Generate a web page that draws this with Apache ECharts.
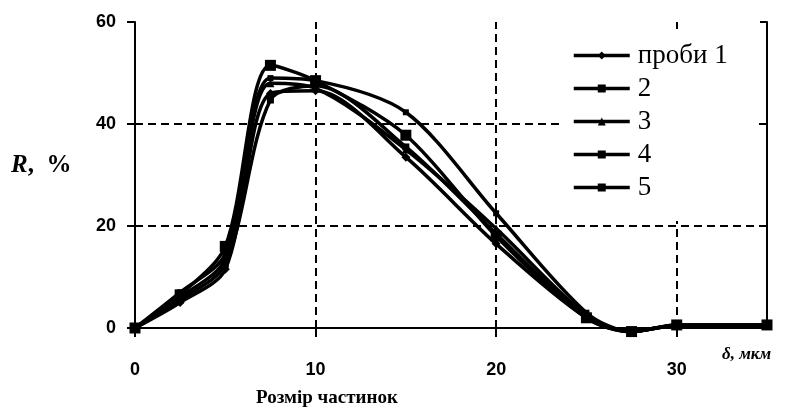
<!DOCTYPE html>
<html>
<head>
<meta charset="utf-8">
<script src="https://cdn.jsdelivr.net/npm/echarts@6/dist/echarts.min.js"></script>
<style>
html,body{margin:0;padding:0;background:#fff;}
#c{width:787px;height:417px;}
</style>
</head>
<body>
<div id="c"></div>
<script>
// Particle size, µm
const sizes = [0, 2.5, 5, 7.5, 10, 15, 20, 25, 27.5, 30, 35];
const seriesNames = ['проби 1', '2', '3', '4', '5'];
const s1 = [0, 5.0, 11.5, 46.0, 46.5, 33.5, 16.5, 2.0, -0.7, 0.5, 0.5];
const s2 = [0, 5.5, 12.5, 44.7, 47.5, 35.5, 18.5, 2.0, -0.7, 0.5, 0.5];
const s3 = [0, 6.0, 13.5, 48.0, 47.0, 35.0, 19.5, 2.5, -0.7, 0.5, 0.5];
const s4 = [0, 6.5, 16.0, 51.5, 48.5, 37.8, 18.0, 2.0, -0.7, 0.6, 0.6];
const s5 = [0, 7.0, 14.5, 49.0, 48.5, 42.3, 22.5, 3.0, -0.7, 0.6, 0.6];
const xTicks = [0, 10, 20, 30];
const yTicks = [0, 20, 40, 60];
const gridX = [10, 20, 30];
const gridY = [20, 40];

const values = [s1, s2, s3, s4, s5];
const symbols = ['diamond', 'rect', 'triangle', 'rect', 'rect'];
const symbolSizes = [9, 7, 8, 11, 6];

const chart = echarts.init(document.getElementById('c'), null, {renderer: 'canvas'});

const series = values.map((v, i) => ({
  name: seriesNames[i],
  type: 'line',
  data: sizes.map((x, j) => [x, v[j]]),
  smooth: 0.3,
  clip: false,
  symbol: symbols[i],
  symbolSize: symbolSizes[i],
  showAllSymbol: true,
  itemStyle: {color: '#000'},
  lineStyle: {color: '#000', width: 3.5},
  z: 3,
  markLine: i === 0 ? {
    silent: true,
    symbol: 'none',
    label: {show: false},
    lineStyle: {color: '#000', type: [8, 5], width: 2},
    data: gridY.map(y => ({yAxis: y})).concat(gridX.map(x => ({xAxis: x}))),
    z: 1
  } : undefined
}));

chart.setOption({
  animation: false,
  backgroundColor: '#fff',
  grid: {left: 135, right: 20, top: 22, bottom: 89},
  xAxis: {
    type: 'value', min: 0, max: 35, interval: 10,
    axisLine: {show: true, lineStyle: {color: '#000', width: 2}},
    axisTick: {show: true, inside: false, length: 9, lineStyle: {color: '#000', width: 2}},
    axisLabel: {
      color: '#000', fontFamily: 'Liberation Sans', fontWeight: 'bold', fontSize: 18,
      margin: 33, showMaxLabel: false,
      formatter: v => xTicks.indexOf(v) >= 0 ? String(v) : ''
    },
    splitLine: {show: false}
  },
  yAxis: [{
    type: 'value', min: 0, max: 60, interval: 20,
    axisLine: {show: true, lineStyle: {color: '#000', width: 2}},
    axisTick: {show: true, inside: false, length: 8, lineStyle: {color: '#000', width: 2}},
    axisLabel: {
      color: '#000', fontFamily: 'Liberation Sans', fontWeight: 'bold', fontSize: 18,
      margin: 19,
      formatter: v => yTicks.indexOf(v) >= 0 ? String(v) : ''
    },
    splitLine: {show: false}
  }, {
    type: 'value', min: 0, max: 60, interval: 20, position: 'right',
    axisLine: {show: true, lineStyle: {color: '#000', width: 2}},
    axisTick: {show: true, inside: true, length: 7, lineStyle: {color: '#000', width: 2}},
    axisLabel: {show: false},
    splitLine: {show: false}
  }],
  legend: {
    orient: 'vertical',
    left: 560, top: 29,
    padding: [13, 30, 20, 12],
    backgroundColor: '#fff',
    itemWidth: 56, itemHeight: 10, itemGap: 6,
    lineStyle: {width: 3.5},
    textStyle: {color: '#000', fontFamily: 'Liberation Serif', fontSize: 27, padding: [0, 0, 0, 3]},
    data: seriesNames
  },
  graphic: [
    {type: 'text', left: 11, top: 153, style: {
      text: '{i|R}{n|,  %}',
      rich: {
        i: {fontFamily: 'Liberation Serif', fontStyle: 'italic', fontWeight: 'bold', fontSize: 25, fill: '#000'},
        n: {fontFamily: 'Liberation Serif', fontWeight: 'bold', fontSize: 25, fill: '#000'}
      }
    }},
    {type: 'text', left: 722, top: 346, style: {
      text: 'δ, мкм', fontFamily: 'Liberation Serif', fontStyle: 'italic', fontWeight: 'bold', fontSize: 17, fill: '#000'
    }},
    {type: 'text', left: 256, top: 389, style: {
      text: 'Розмір частинок', fontFamily: 'Liberation Serif', fontWeight: 'bold', fontSize: 19, fill: '#000'
    }}
  ],
  series: series
});
</script>
</body>
</html>
